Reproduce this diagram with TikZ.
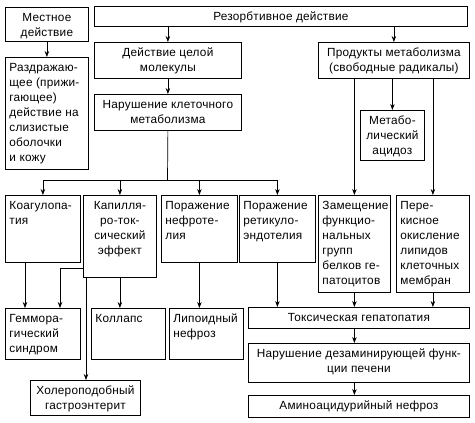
\documentclass[tikz,border=0pt]{standalone}
\usepackage{fontspec}
\setmainfont{Liberation Sans}[LetterSpace=2]
\usetikzlibrary{arrows.meta}
\newcommand\bx[7]{%
\node[box, anchor=north west] (#1) at (#2pt,-#3pt)
 {\parbox[c][\dimexpr#5pt-8pt\relax][t]{\dimexpr#4pt-8pt\relax}{#6\strut#7}};}
\begin{document}
\begin{tikzpicture}[
  box/.style={draw, line width=0.8pt, inner xsep=4pt, inner ysep=4pt,
    font=\fontsize{11.8}{15}\selectfont},
  arr/.style={line width=0.7pt, -{Stealth[length=6pt,width=4.5pt]}},
  ln/.style={line width=0.7pt}]
\useasboundingbox (0,0) rectangle (475pt,-423pt);
\bx{mest}{5}{7}{83}{34}{\centering}{Местное\\действие}
\bx{razd}{5}{57}{83}{112}{\raggedright}{Раздражаю-\\щее (прижи-\\гающее)\\действие на\\слизистые\\оболочки\\и кожу}
\bx{rez}{94}{6}{373}{20}{\centering}{Резорбтивное действие}
\bx{cel}{94}{42}{147}{36}{\centering}{Действие целой\\молекулы}
\bx{nar}{94}{94}{147}{36}{\centering}{Нарушение клеточного\\метаболизма}
\bx{prod}{318}{42}{151}{36}{\centering}{Продукты метаболизма\\(свободные радикалы)}
\bx{metab}{360}{110}{64}{50}{\centering}{Метабо-\\лический\\ацидоз}
\bx{koag}{5}{195}{75}{67}{\raggedright}{Коагулопа-\\тия}
\bx{kap}{83}{195}{73}{82}{\centering}{Капилля-\\ро-ток-\\сический\\эффект}
\bx{nefr}{161}{195}{76}{67}{\raggedright}{Поражение\\нефроте-\\лия}
\bx{ret}{239}{195}{76}{67}{\raggedright}{Поражение\\ретикуло-\\эндотелия}
\bx{zam}{318}{195}{72}{97}{\raggedright}{Замещение\\функцио-\\нальных\\групп\\белков ге-\\патоцитов}
\bx{per}{396}{195}{73}{97}{\raggedright}{Пере-\\кисное\\окисление\\липидов\\клеточных\\мембран}
\bx{gem}{5}{308}{75}{51}{\raggedright}{Геммора-\\гический\\синдром}
\bx{koll}{91}{308}{74}{51}{\raggedright}{Коллапс}
\bx{lip}{169}{308}{74}{51}{\raggedright}{Липоидный\\нефроз}
\bx{tox}{248}{307}{221}{21}{\centering}{Токсическая гепатопатия}
\node[box, inner xsep=0pt, anchor=north west] (dez) at (248pt,-343pt)
 {\parbox[c][31pt][t]{221pt}{\centering\strut Нарушение дезаминирующей функ-\\ции печени}};
\bx{amin}{248}{395}{221}{22}{\centering}{Аминоацидурийный нефроз}
\bx{hol}{30}{380}{110}{35}{\centering}{Холероподобный\\гастроэнтерит}
\coordinate (j) at (167.5pt,-180pt);
\draw[arr] (mest.south) -- (razd.north);
\draw[arr] (cel.north |- rez.south) -- (cel.north);
\draw[arr] (prod.north |- rez.south) -- (prod.north);
\draw[arr] (cel.south) -- (nar.north);
\draw[ln] (nar.south) -- (j);
\draw[ln] (koag.north |- j) -- (ret.north |- j);
\draw[arr] (koag.north |- j) -- (koag.north);
\draw[arr] (kap.north |- j) -- (kap.north);
\draw[arr] (nefr.north |- j) -- (nefr.north);
\draw[arr] (ret.north |- j) -- (ret.north);
\draw[arr] (metab.north |- prod.south) -- (metab.north);
\draw[arr] (zam.north |- prod.south) -- (zam.north);
\draw[arr] (per.north |- prod.south) -- (per.north);
\draw[arr] ([xshift=20pt]koag.south west) -- ([xshift=20pt]gem.north west);
\draw[arr] ([yshift=-73pt]kap.north west) -| ([xshift=55pt]gem.north west);
\draw[arr] ([xshift=3pt]kap.south west) -- ([xshift=3pt]kap.south west |- hol.north);
\draw[arr] (kap.south) -- (kap.south |- koll.north);
\draw[arr] (nefr.south) -- (nefr.south |- lip.north);
\draw[arr] (ret.south) -- (ret.south |- tox.north);
\draw[arr] (zam.south) -- (zam.south |- tox.north);
\draw[arr] (per.south) -- (per.south |- tox.north);
\draw[arr] (zam.south |- tox.south) -- (zam.south |- dez.north);
\draw[arr] (zam.south |- dez.south) -- (zam.south |- amin.north);
\end{tikzpicture}
\end{document}
